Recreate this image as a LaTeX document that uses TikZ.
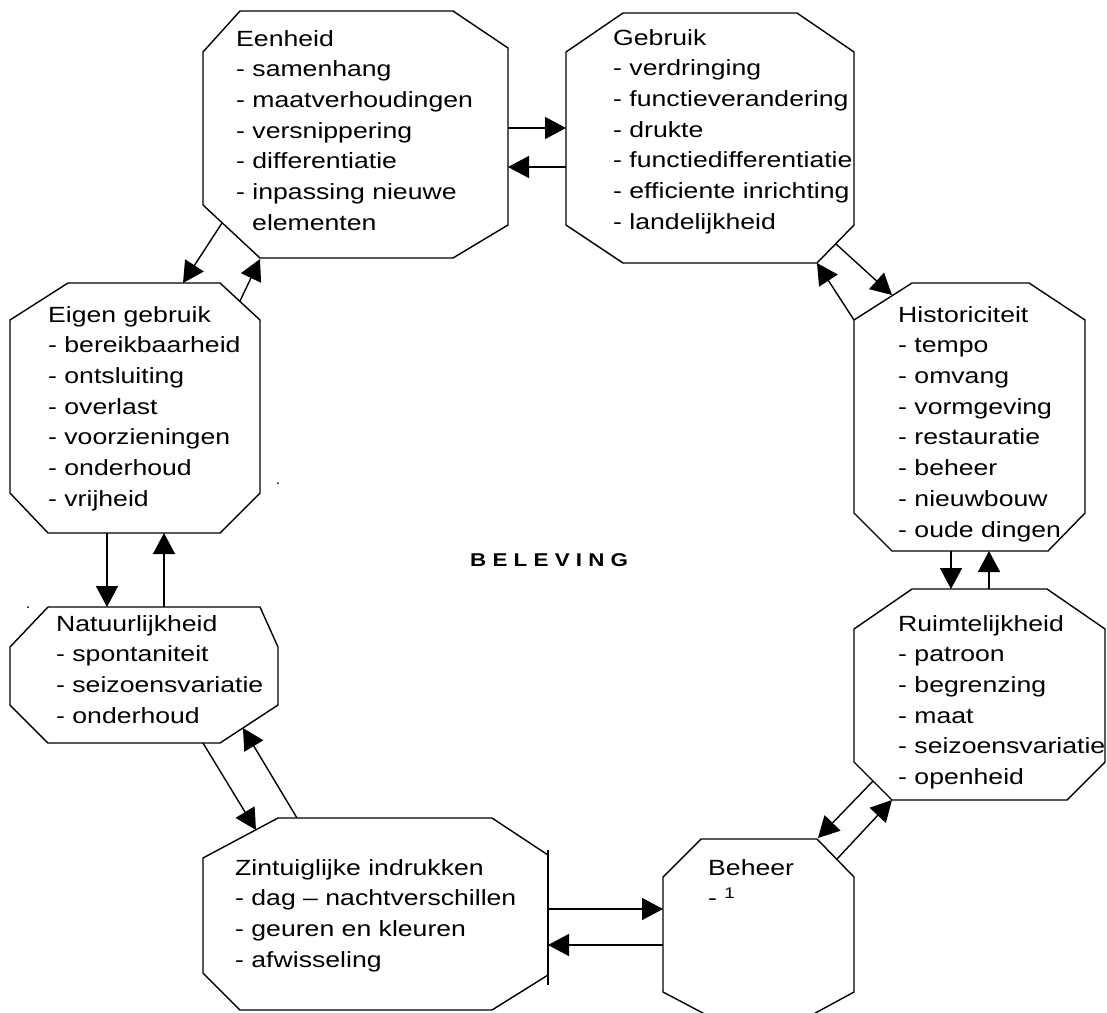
\documentclass[tikz,border=0pt]{standalone}
\usepackage{fontspec}
\setmainfont{Liberation Sans}[FakeStretch=1.21]
\usetikzlibrary{arrows.meta}
\begin{document}
\begin{tikzpicture}[x=1pt,y=-1pt,
  oct/.style={draw,line width=1.4pt,line join=miter},
  arr/.style={draw,line width=1.4pt,-{Triangle[length=21pt,width=22pt]}},
  txt/.style={anchor=north west,inner sep=0pt,align=left,font=\fontsize{22}{30.7}\selectfont},
  ttl/.style={anchor=base west,inner sep=0pt,font=\fontsize{18.5}{22}\selectfont\bfseries}]
\useasboundingbox (0,0) rectangle (1107,1012);
\clip (0,0) rectangle (1107,1012);

% octagons
\draw[oct] (240,11) -- (453,11) -- (508,48) -- (508,225) -- (453,258) -- (260,258) -- (203,205) -- (203,52) -- cycle;
\draw[oct] (623,13) -- (797,13) -- (854,52) -- (854,225) -- (817,263) -- (623,263) -- (566,225) -- (566,52) -- cycle;
\draw[oct] (68,283) -- (220,283) -- (260,320) -- (260,493) -- (220,533) -- (48,533) -- (10,493) -- (10,320) -- cycle;
\draw[oct] (912,283) -- (1029,283) -- (1085,320) -- (1085,513) -- (1048,551) -- (892,551) -- (854,513) -- (854,320) -- cycle;
\draw[oct] (912,589) -- (1047,589) -- (1105,629) -- (1105,762) -- (1067,800) -- (892,800) -- (854,762) -- (854,629) -- cycle;
\draw[oct] (48,607) -- (260,607) -- (278,647) -- (278,705) -- (220,743) -- (48,743) -- (10,705) -- (10,647) -- cycle;
\draw[oct] (278,818) -- (492,818) -- (548,855) -- (548,975) -- (492,1010) -- (240,1010) -- (203,973) -- (203,858) -- cycle;
\draw[oct] (548,850) -- (548,985);
\draw[oct] (701,839) -- (817,839) -- (854,877) -- (854,992) -- (784,1030) -- (735,1030) -- (663,992) -- (663,877) -- cycle;

% texts
\node[txt] (eenheid) at (236,30) {Eenheid\\- samenhang\\- maatverhoudingen\\- versnippering\\- differentiatie\\- inpassing nieuwe\\\hspace*{16pt}elementen};
\node[txt] (gebruik) at (613,29) {Gebruik\\- verdringing\\- functieverandering\\- drukte\\- functiedifferentiatie\\- efficiente inrichting\\- landelijkheid};
\node[txt] (eigen) at (48,306) {Eigen gebruik\\- bereikbaarheid\\- ontsluiting\\- overlast\\- voorzieningen\\- onderhoud\\- vrijheid};
\node[txt] (hist) at (898,306) {Historiciteit\\- tempo\\- omvang\\- vormgeving\\- restauratie\\- beheer\\- nieuwbouw\\- oude dingen};
\node[txt] (natuur) at (56,615) {Natuurlijkheid\\- spontaniteit\\- seizoensvariatie\\- onderhoud};
\node[txt] (ruimte) at (898,615) {Ruimtelijkheid\\- patroon\\- begrenzing\\- maat\\- seizoensvariatie\\- openheid};
\node[txt] (zintuig) at (235,859) {Zintuiglijke indrukken\\- dag – nachtverschillen\\- geuren en kleuren\\- afwisseling};
\node[txt] (beheer) at (708,859) {Beheer\\- \textsuperscript{1}};
\node[ttl] (beleving) at (470,566) {B E L E V I N G};

% stray dots
\fill (278,483) circle (1pt);
\fill (28,607) circle (1pt);

% connector end points
\coordinate (eR1) at (508,128); \coordinate (gL1) at (566,128);
\coordinate (gL2) at (566,167); \coordinate (eR2) at (508,167);
\coordinate (gB1) at (836,244); \coordinate (hT1) at (892,295);
\coordinate (hT2) at (854,320); \coordinate (gB2) at (817,263);
\coordinate (hB1) at (951,551); \coordinate (rT1) at (951,589);
\coordinate (rT2) at (989,589); \coordinate (hB2) at (989,551);
\coordinate (rB1) at (873,781); \coordinate (bT1) at (818,838);
\coordinate (bT2) at (837,859); \coordinate (rB2) at (892,800);
\coordinate (bL1) at (663,945); \coordinate (zR1) at (548,945);
\coordinate (zR2) at (548,909); \coordinate (bL2) at (663,909);
\coordinate (zT1) at (297,818); \coordinate (nB1) at (243,728);
\coordinate (nB2) at (203,743); \coordinate (zT2) at (256,830);
\coordinate (nT1) at (164,607); \coordinate (egB1) at (164,533);
\coordinate (egB2) at (107,533); \coordinate (nT2) at (107,607);
\coordinate (eB1) at (222,223); \coordinate (egT1) at (183,283);
\coordinate (egT2) at (240,301); \coordinate (eB2) at (260,259);

% connectors
\draw[arr] (eR1) -- (gL1);
\draw[arr] (gL2) -- (eR2);
\draw[arr] (gB1) -- (hT1);
\draw[arr] (hT2) -- (gB2);
\draw[arr] (hB1) -- (rT1);
\draw[arr] (rT2) -- (hB2);
\draw[arr] (rB1) -- (bT1);
\draw[arr] (bT2) -- (rB2);
\draw[arr] (bL1) -- (zR1);
\draw[arr] (zR2) -- (bL2);
\draw[arr] (zT1) -- (nB1);
\draw[arr] (nB2) -- (zT2);
\draw[arr] (nT1) -- (egB1);
\draw[arr] (egB2) -- (nT2);
\draw[arr] (eB1) -- (egT1);
\draw[arr] (egT2) -- (eB2);
\end{tikzpicture}
\end{document}
